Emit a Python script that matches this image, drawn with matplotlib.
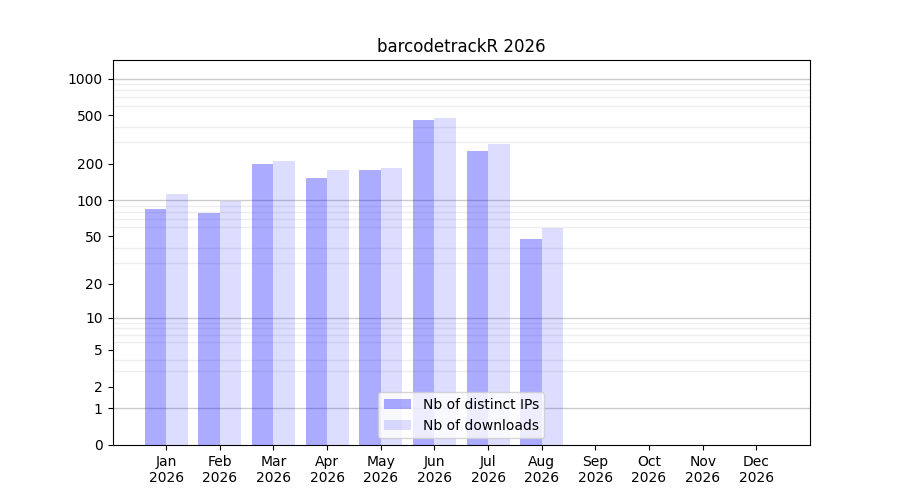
import numpy as np
import matplotlib
matplotlib.use("Agg")
import matplotlib.pyplot as plt

months = ["Jan", "Feb", "Mar", "Apr", "May", "Jun", "Jul", "Aug", "Sep", "Oct", "Nov", "Dec"]
year = "2026"
nb_ips = [85, 78, 199, 153, 178, 458, 255, 48, 0, 0, 0, 0]
nb_downloads = [113, 99, 211, 178, 185, 475, 291, 59, 0, 0, 0, 0]
ytick_vals = [0, 1, 2, 5, 10, 20, 50, 100, 200, 500, 1000]


def fwd(y):
    return np.log10(1 + np.clip(y, 0, None))


def inv(y):
    return 10 ** y - 1


fig, ax = plt.subplots(figsize=(9, 5), dpi=100)
ax.set_yscale("function", functions=(fwd, inv))

x = np.arange(1, len(months) + 1)
ax.bar(x - 0.2, nb_ips, width=0.4, color="blue", alpha=0.33, label="Nb of distinct IPs")
ax.bar(x + 0.2, nb_downloads, width=0.4, color="blue", alpha=0.133, label="Nb of downloads")

# light lines at 2..9, 20..90, 200..900 and darker ones at each decade
minor = [m * 10 ** e for e in range(3) for m in range(2, 10)]
ax.set_yticks(ytick_vals)
ax.set_yticklabels([str(v) for v in ytick_vals])
ax.set_yticks(minor, minor=True)
ax.tick_params(axis="y", which="minor", length=0)
ax.grid(which="minor", axis="y", color="#eeeeee", linewidth=1)
for v in [1, 10, 100, 1000]:
    ax.axhline(v, color="#cccccc", linewidth=1, zorder=0.5)
ax.set_axisbelow(True)

ax.set_ylim(0, 1420)
ax.set_xlim(0, 13)
ax.set_xticks(x)
ax.set_xticklabels([m + "\n" + year for m in months])
ax.set_title("barcodetrackR 2026")
ax.legend(loc="lower center")

plt.savefig("out.png")
